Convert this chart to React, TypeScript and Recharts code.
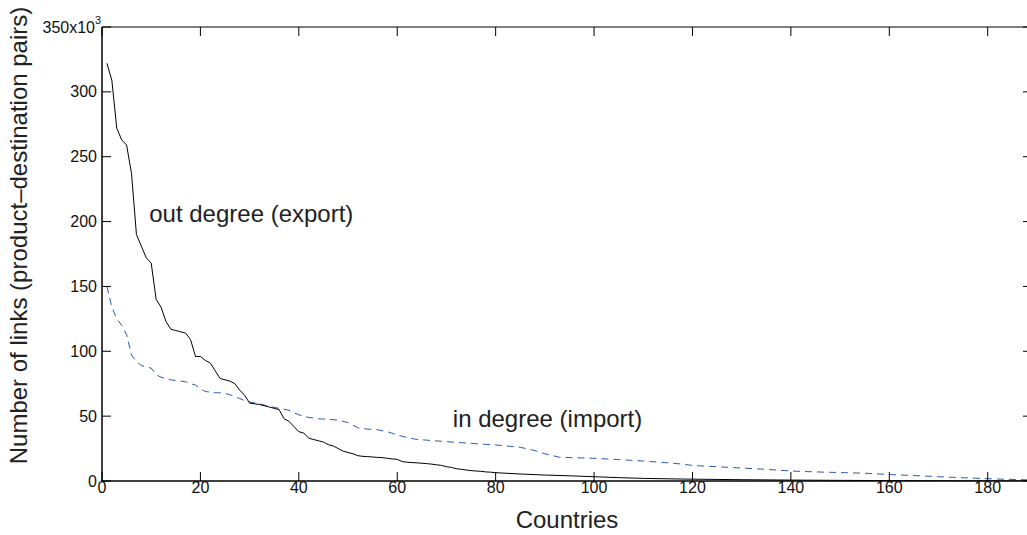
import React from "react";
import { LineChart, Line, XAxis, YAxis, ReferenceDot } from "recharts";

// rank of country (sorted by degree) and number of links, in thousands
const outRank = [
  1, 2, 3, 4, 5, 6, 7, 8, 9, 10, 11, 12, 13, 14, 15, 16, 17, 18, 19, 20,
  21, 22, 23, 24, 25, 26, 27, 28, 29, 30, 31, 32, 33, 34, 35, 36, 37, 38, 39, 40,
  41, 42, 43, 44, 45, 46, 47, 48, 49, 50, 51, 52, 53, 54, 55, 56, 57, 58, 59, 60,
  61, 62, 63, 64, 65, 66, 67, 68, 69, 70, 71, 72, 73, 74, 75, 76, 77, 78, 79, 80,
  85, 90, 95, 100, 105, 110, 118, 125, 130, 140, 150, 160, 170, 180, 189,
];
const outLinks = [
  322, 309, 272, 263, 259, 237, 190, 181, 172, 168, 140, 134, 123, 117, 116, 115, 114, 109, 96, 96,
  93, 91, 85, 79, 78, 77, 75, 70, 66, 60, 59.5, 59, 58, 57, 56, 55, 48, 46, 42, 38,
  37, 33, 32, 31, 30, 28, 27, 25, 23, 22, 21, 19.5, 19, 18.8, 18.5, 18.2, 18, 17.5, 17, 16.7,
  15, 14.5, 14.2, 14, 13.7, 13.4, 13, 12.5, 12, 11, 10.5, 9.5, 9, 8.5, 8, 7.7, 7.5, 7, 6.8, 6.4,
  5.4, 4.6, 4, 3.3, 2.6, 2, 1.5, 1.2, 1, 0.7, 0.5, 0.3, 0.2, 0.1, 0.05,
];

const inRank = [
  1, 2, 3, 4, 5, 6, 7, 8, 9, 10, 11, 12, 13, 14, 15, 16, 17, 18, 19, 20,
  21, 22, 23, 24, 25, 26, 27, 28, 29, 30, 32, 34, 36, 38, 40, 42, 44, 46, 48, 50,
  52, 54, 56, 58, 60, 62, 64, 66, 70, 75, 80, 85, 88, 90, 93, 100, 105, 110, 115, 118,
  120, 125, 130, 135, 140, 145, 150, 155, 160, 165, 170, 175, 182, 189,
];
const inLinks = [
  150, 134, 125, 120, 113, 97, 92, 89, 88, 87, 82, 80, 79, 78, 77.5, 77, 76.5, 75, 74, 71,
  69, 68.5, 68, 68, 67.5, 66.5, 65, 63.5, 62, 61, 59.5, 57.5, 56, 54.5, 51, 49, 48, 47.5, 47, 45,
  41, 40, 39.5, 38, 35.5, 33.5, 32, 31.5, 30.3, 29, 27.8, 26, 23.4, 21, 18.3, 17.5, 16.5, 15.4, 14, 13,
  12, 11, 10, 9, 7.7, 7, 6.5, 6, 5, 4.2, 3.3, 2.5, 1.5, 0.8,
];

const xTicks = [0, 20, 40, 60, 80, 100, 120, 140, 160, 180];
const yTicks = [0, 50, 100, 150, 200, 250, 300, 350];

const outData = outRank.map((x, i) => ({ x, v: outLinks[i] }));
const inData = inRank.map((x, i) => ({ x, v: inLinks[i] }));

const FONT = "'Liberation Sans', Arial, Helvetica, sans-serif";
const TICK_LEN = 9;

const BottomTick = (props: any) => {
  const { x, y, payload } = props;
  return (
    <g>
      <line x1={x} x2={x} y1={y} y2={y - TICK_LEN} stroke="#000" strokeWidth={1} />
      <text x={x} y={y + 12} textAnchor="middle" fontSize={16} fill="#111" fontFamily={FONT}>
        {payload.value}
      </text>
    </g>
  );
};

const TopTick = (props: any) => {
  const { x, y } = props;
  return <line x1={x} x2={x} y1={y} y2={y + TICK_LEN} stroke="#000" strokeWidth={1} />;
};

const LeftTick = (props: any) => {
  const { x, y, payload } = props;
  return (
    <g>
      <line x1={x} x2={x + TICK_LEN} y1={y} y2={y} stroke="#000" strokeWidth={1} />
      <text x={payload.value === 350 ? x - 7 : x - 5} y={y + 5.5} textAnchor="end" fontSize={16} fill="#111" fontFamily={FONT}>
        {payload.value === 350 ? "350x10" : payload.value}
      </text>
      {payload.value === 350 && (
        <text x={x - 7} y={y - 3} textAnchor="start" fontSize={11} fill="#111" fontFamily={FONT}>
          3
        </text>
      )}
    </g>
  );
};

const RightTick = (props: any) => {
  const { x, y } = props;
  return <line x1={x} x2={x - TICK_LEN} y1={y} y2={y} stroke="#000" strokeWidth={1} />;
};

const annotation = (text: string) => (props: any) => {
  const { viewBox } = props;
  return (
    <text x={viewBox.x} y={viewBox.y} fontSize={24} fill="#222" fontFamily={FONT}>
      {text}
    </text>
  );
};

export default function App() {
  return (
    <div style={{ position: "absolute", left: 0, top: 0, width: 1027, height: 535, overflow: "hidden", background: "#fff" }}>
      <LineChart width={1042} height={535} margin={{ top: 17, right: 0, bottom: 0, left: 2 }}>
        <XAxis
          dataKey="x"
          type="number"
          domain={[0, 189]}
          ticks={xTicks}
          allowDataOverflow
          height={54}
          tickSize={0}
          tickMargin={0}
          tick={<BottomTick />}
          axisLine={{ stroke: "#000", strokeWidth: 1.5 }}
          label={{
            content: (p: any) => (
              <text
                x={p.viewBox.x + p.viewBox.width / 2}
                y={p.viewBox.y + 47}
                textAnchor="middle"
                fontSize={24}
                fill="#222"
                fontFamily={FONT}
              >
                Countries
              </text>
            ),
          }}
        />
        <XAxis
          xAxisId="top"
          orientation="top"
          dataKey="x"
          type="number"
          domain={[0, 189]}
          ticks={xTicks}
          allowDataOverflow
          height={10}
          tickSize={0}
          tickMargin={0}
          tick={<TopTick />}
          axisLine={{ stroke: "#000", strokeWidth: 1 }}
        />
        <YAxis
          type="number"
          domain={[0, 350]}
          ticks={yTicks}
          allowDataOverflow
          width={100}
          tickSize={0}
          tickMargin={0}
          tick={<LeftTick />}
          axisLine={{ stroke: "#000", strokeWidth: 1.5 }}
          label={{
            content: (p: any) => (
              <text
                transform="translate(27, 235.5) rotate(-90)"
                textAnchor="middle"
                fontSize={24}
                fill="#222"
                fontFamily={FONT}
              >
                Number of links (product–destination pairs)
              </text>
            ),
          }}
        />
        <YAxis
          yAxisId="right"
          orientation="right"
          type="number"
          domain={[0, 350]}
          ticks={yTicks}
          allowDataOverflow
          width={10}
          tickSize={0}
          tickMargin={0}
          tick={<RightTick />}
          axisLine={false}
        />
        <Line
          data={inData}
          dataKey="v"
          type="linear"
          stroke="#2a5db0"
          strokeWidth={1}
          strokeDasharray="7 5"
          dot={false}
          isAnimationActive={false}
        />
        <Line
          data={outData}
          dataKey="v"
          type="linear"
          stroke="#000"
          strokeWidth={1}
          dot={false}
          isAnimationActive={false}
        />
        <ReferenceDot x={9.6} y={200} r={0} fill="none" stroke="none" label={{ content: annotation("out degree (export)") }} />
        <ReferenceDot x={71.3} y={42} r={0} fill="none" stroke="none" label={{ content: annotation("in degree (import)") }} />
      </LineChart>
    </div>
  );
}
